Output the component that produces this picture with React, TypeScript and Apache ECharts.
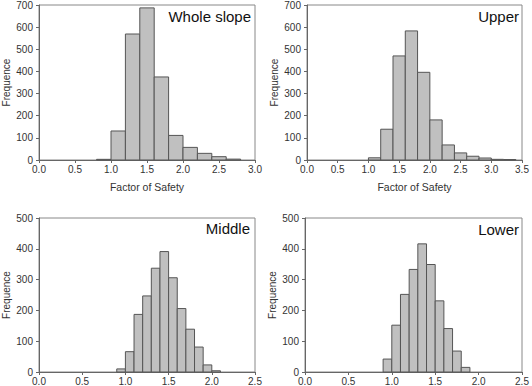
import React, { useEffect, useRef } from "react";
import * as echarts from "echarts";

// Histogram bins: lower edge of each bin and its count
const wholeBinStart = [0.8, 1.0, 1.2, 1.4, 1.6, 1.8, 2.0, 2.2, 2.4, 2.6];
const wholeCounts = [3, 131, 569, 687, 375, 111, 57, 30, 15, 4];

const upperBinStart = [1.0, 1.2, 1.4, 1.6, 1.8, 2.0, 2.2, 2.4, 2.6, 2.8, 3.0, 3.2];
const upperCounts = [10, 139, 470, 583, 396, 181, 68, 32, 17, 9, 3, 2];

const middleBinStart = [0.9, 1.0, 1.1, 1.2, 1.3, 1.4, 1.5, 1.6, 1.7, 1.8, 1.9, 2.0];
const middleCounts = [10, 66, 187, 247, 337, 391, 306, 206, 139, 81, 23, 4];

const lowerBinStart = [0.9, 1.0, 1.1, 1.2, 1.3, 1.4, 1.5, 1.6, 1.7, 1.8];
const lowerCounts = [42, 152, 252, 333, 416, 349, 231, 141, 68, 15];

const panelTitles = ["Whole slope", "Upper", "Middle", "Lower"];
const xMax = [3.0, 3.5, 2.5, 2.5];
const yMax = [700, 700, 500, 500];
const binWidths = [0.2, 0.2, 0.1, 0.1];

const FONT = "'Liberation Sans', Arial, sans-serif";

const grids = [
  { left: 39, top: 5, width: 216, height: 155 },
  { left: 307, top: 5, width: 215, height: 155 },
  { left: 38, top: 218, width: 217, height: 155 },
  { left: 305, top: 218, width: 217, height: 155 },
];

const titlePos = [
  { right: 281, top: 9 },
  { right: 13, top: 9 },
  { right: 282, top: 221 },
  { right: 13, top: 222 },
];

export default function App() {
  const ref = useRef<HTMLDivElement>(null);

  useEffect(() => {
    if (!ref.current) return;
    const chart = echarts.init(ref.current, undefined, { renderer: "svg" });

    const binStarts = [wholeBinStart, upperBinStart, middleBinStart, lowerBinStart];
    const counts = [wholeCounts, upperCounts, middleCounts, lowerCounts];

    const axisCommon = {
      axisLine: { show: true, lineStyle: { color: "#666", width: 1 } },
      axisTick: { show: true, length: 3, lineStyle: { color: "#666" } },
      splitLine: { show: false },
    };

    const option: any = {
      animation: false,
      backgroundColor: "#fff",
      title: panelTitles.map((t, i) => ({
        text: t,
        ...titlePos[i],
        padding: 0,
        textStyle: { fontFamily: FONT, fontSize: 15, fontWeight: "normal", color: "#111" },
      })),
      grid: grids.map((g) => ({ ...g, show: true, borderColor: "#888", borderWidth: 1 })),
      xAxis: grids.map((_, i) => ({
        type: "value",
        gridIndex: i,
        min: 0,
        max: xMax[i],
        interval: 0.5,
        ...axisCommon,
        axisLabel: {
          margin: 4,
          fontFamily: FONT,
          fontSize: 10,
          color: "#333",
          formatter: (v: number) => v.toFixed(1),
        },
        name: i < 2 ? "Factor of Safety" : "",
        nameLocation: "middle",
        nameGap: 21,
        nameTextStyle: { fontFamily: FONT, fontSize: 10.5, color: "#333" },
      })),
      yAxis: grids.map((_, i) => ({
        type: "value",
        gridIndex: i,
        min: 0,
        max: yMax[i],
        interval: 100,
        ...axisCommon,
        axisLabel: { margin: 6, fontFamily: FONT, fontSize: 10, color: "#333" },
        name: "Frequence",
        nameLocation: "middle",
        nameGap: 28,
        nameTextStyle: { fontFamily: FONT, fontSize: 10, color: "#333" },
      })),
      series: grids.map((_, i) => ({
        type: "custom",
        xAxisIndex: i,
        yAxisIndex: i,
        encode: { x: [0, 1], y: 2 },
        data: binStarts[i].map((b, k) => [b, b + binWidths[i], counts[i][k]]),
        renderItem: (_params: any, api: any) => {
          const p0 = api.coord([api.value(0), api.value(2)]);
          const p1 = api.coord([api.value(1), 0]);
          return {
            type: "rect",
            shape: { x: p0[0], y: p0[1], width: p1[0] - p0[0], height: p1[1] - p0[1] },
            style: { fill: "#c0c0c0", stroke: "#555", lineWidth: 1 },
          };
        },
      })),
    };

    chart.setOption(option);
    return () => chart.dispose();
  }, []);

  return (
    <div
      ref={ref}
      style={{ position: "absolute", left: 0, top: 0, width: 532, height: 386 }}
    />
  );
}
